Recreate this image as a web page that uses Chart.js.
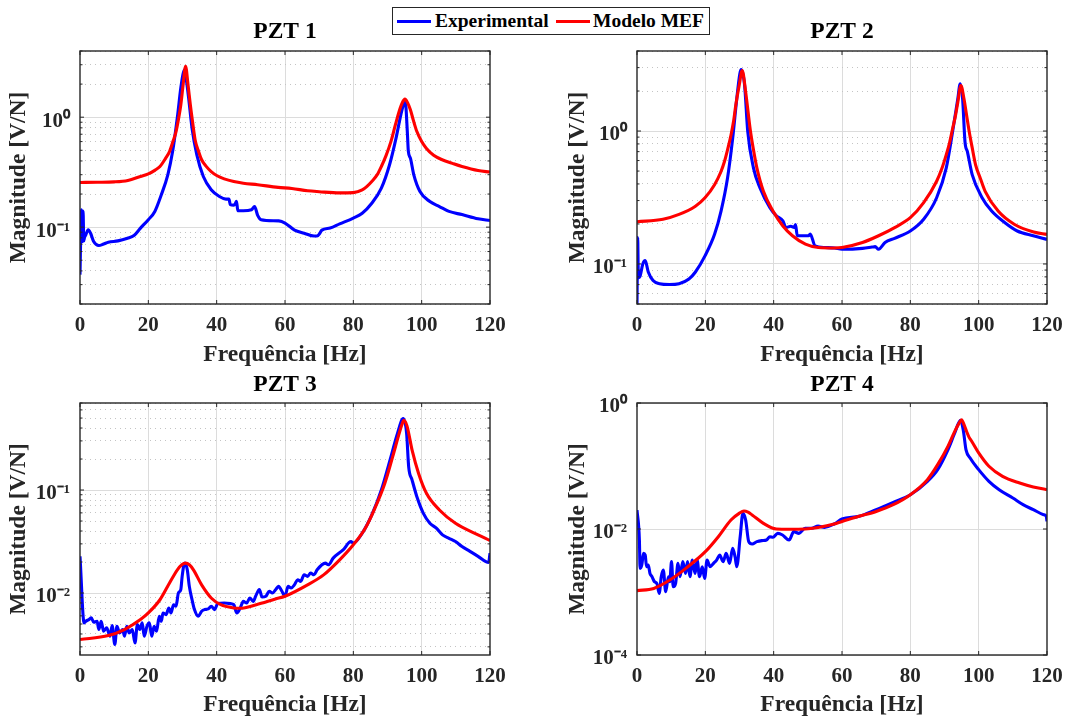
<!DOCTYPE html>
<html>
<head>
<meta charset="utf-8">
<title>FRF PZT 1-4</title>
<script src="https://cdn.jsdelivr.net/npm/chart.js@4.4.1/dist/chart.umd.min.js"></script>
<style>
  html, body { margin: 0; padding: 0; background: #fff; }
  #fig { position: relative; width: 1086px; height: 722px; overflow: hidden; }
  #fig canvas { position: absolute; left: 0; top: 0; }
  #legend {
    position: absolute; left: 392px; top: 7px; width: 316px; height: 26px;
    border: 1px solid #262626; background: #fff; z-index: 5;
    font-family: 'Liberation Serif', 'Times New Roman', serif;
    font-weight: bold; font-size: 19.5px; color: #000;
  }
  #legend .ln { position: absolute; top: 12px; height: 3px; width: 34px; }
  #legend .tx { position: absolute; top: 0; line-height: 26px; white-space: nowrap; }
</style>
</head>
<body>
<div id="fig">
  <canvas id="c1" width="1086" height="722"></canvas>
  <canvas id="c2" width="1086" height="722"></canvas>
  <canvas id="c3" width="1086" height="722"></canvas>
  <canvas id="c4" width="1086" height="722"></canvas>
  <div id="legend">
    <span class="ln" style="left:4px;background:#0000ff"></span><span class="tx" style="left:42px">Experimental</span>
    <span class="ln" style="left:163px;background:#ff0000"></span><span class="tx" style="left:200px">Modelo MEF</span>
  </div>
</div>
<script>
// frequency ticks (Hz), same for all panels
const freqTicks = [0, 20, 40, 60, 80, 100, 120];

// ---- PZT 1 ----
const p1ExpFreq = [0, 0.2, 0.4, 0.6, 0.75, 0.9, 1.1, 1.3, 1.7, 2.4, 3.1, 4, 5.5, 6.9, 8.3, 11.1, 13.9, 15.8, 17.7, 20, 21.9, 23.8, 25.7, 27.1, 28.5, 29.5, 30.2, 30.6, 31.2, 31.8, 32.8, 34.2, 36.1, 38.4, 40.8, 42.7, 43.6, 44, 45, 45.5, 45.8, 46.2, 47.8, 50.2, 51.1, 52, 53, 58.2, 60, 62.8, 65.6, 68.5, 69.4, 70.2, 70.8, 73.2, 76, 80, 82.6, 85.4, 88.2, 90.6, 92.5, 93.9, 94.8, 95.2, 95.8, 96.1, 96.7, 97.7, 99.5, 102.4, 105.2, 108, 111.8, 116.5, 120];
const p1ExpMag = [0.037, 0.08, 0.144, 0.1, 0.074, 0.14, 0.075, 0.08, 0.085, 0.0946, 0.088, 0.074, 0.068, 0.0702, 0.073, 0.075, 0.0794, 0.084, 0.098, 0.117, 0.139, 0.197, 0.299, 0.487, 1.0, 1.84, 2.51, 2.7, 2.1, 1.49, 0.79, 0.455, 0.289, 0.219, 0.19, 0.18, 0.18, 0.16, 0.158, 0.165, 0.172, 0.141, 0.141, 0.144, 0.154, 0.128, 0.117, 0.114, 0.109, 0.094, 0.088, 0.083, 0.083, 0.088, 0.094, 0.098, 0.107, 0.121, 0.134, 0.165, 0.226, 0.369, 0.645, 1.05, 1.34, 1.39, 0.74, 0.49, 0.424, 0.299, 0.211, 0.171, 0.154, 0.139, 0.13, 0.119, 0.115];
const p1MefFreq = [0, 5, 10, 14, 17.7, 20, 22, 23.4, 25, 26.2, 27.2, 28, 28.8, 29.5, 30.2, 30.9, 31.6, 32.3, 33, 33.7, 34.6, 35.6, 37, 38.4, 40, 42.2, 45, 47.8, 52, 58, 62, 66.6, 70, 76, 80, 82.6, 84, 85.4, 87, 88.2, 89.6, 91, 92.3, 93.4, 94.3, 95.1, 95.9, 96.7, 97.6, 98.6, 100, 101.4, 103.5, 106, 109, 111.8, 116.5, 120];
const p1MefMag = [0.255, 0.256, 0.258, 0.266, 0.289, 0.305, 0.33, 0.356, 0.42, 0.487, 0.6, 0.716, 0.95, 1.29, 2.0, 2.9, 2.0, 1.29, 0.88, 0.62, 0.5, 0.41, 0.355, 0.32, 0.295, 0.275, 0.26, 0.251, 0.243, 0.23, 0.225, 0.214, 0.21, 0.205, 0.206, 0.218, 0.235, 0.26, 0.3, 0.356, 0.45, 0.6, 0.85, 1.13, 1.35, 1.46, 1.35, 1.17, 0.93, 0.74, 0.6, 0.52, 0.45, 0.41, 0.38, 0.356, 0.327, 0.317];
const p1YTicks = [0.1, 1];
const p1YTickLabels = ['10⁻¹', '10⁰'];
const p1YMinor = [0.02, 0.03, 0.04, 0.05, 0.06, 0.07, 0.08, 0.09, 0.2, 0.3, 0.4, 0.5, 0.6, 0.7, 0.8, 0.9, 2, 3, 4];

// ---- PZT 2 ----
const p2ExpFreq = [0, 0.2, 0.35, 0.5, 0.9, 1.7, 2.4, 3.3, 4.7, 6.6, 9.5, 12.3, 15.2, 17.1, 19.9, 22.7, 24.6, 26.5, 28, 29.2, 30.1, 30.5, 31.5, 32.4, 34.1, 36, 38.9, 40.8, 42.7, 43.6, 45, 46, 46.4, 46.9, 50.2, 50.7, 52.1, 55, 57.8, 60, 66, 68.8, 69.7, 70.7, 72.6, 75.4, 80, 83.9, 87.7, 90.5, 92.4, 93.9, 94.6, 95.3, 96, 96.7, 98.1, 101, 103.8, 107.6, 111.3, 116, 120];
const p2ExpMag = [0.05, 0.158, 0.09, 0.079, 0.081, 0.1, 0.106, 0.087, 0.075, 0.071, 0.07, 0.071, 0.077, 0.087, 0.115, 0.167, 0.25, 0.443, 0.88, 1.75, 2.7, 2.9, 2.2, 1.0, 0.526, 0.373, 0.265, 0.23, 0.211, 0.188, 0.192, 0.188, 0.198, 0.163, 0.163, 0.168, 0.137, 0.133, 0.132, 0.129, 0.131, 0.134, 0.135, 0.129, 0.145, 0.156, 0.177, 0.217, 0.315, 0.526, 1.0, 1.75, 2.27, 1.75, 0.83, 0.7, 0.47, 0.315, 0.25, 0.205, 0.177, 0.163, 0.153];
const p2MefFreq = [0, 7.6, 12.3, 17.1, 19.9, 22.7, 24.5, 25.6, 26.6, 27.5, 28.3, 28.9, 29.9, 30.8, 31.8, 32.5, 33.2, 34.1, 35.1, 37, 39.8, 42.7, 45.5, 49.3, 53.1, 57.8, 60, 66, 70.7, 75.4, 80, 83.9, 87.7, 89.2, 90.5, 91.5, 92.4, 93.2, 93.9, 94.8, 95.7, 96.5, 97.2, 98.1, 99.1, 100.5, 101.9, 105.7, 110.4, 116.1, 120];
const p2MefMag = [0.208, 0.217, 0.236, 0.272, 0.315, 0.395, 0.49, 0.59, 0.74, 0.93, 1.2, 1.56, 2.2, 2.85, 1.97, 1.4, 1.0, 0.72, 0.526, 0.352, 0.25, 0.193, 0.163, 0.141, 0.133, 0.132, 0.133, 0.145, 0.163, 0.188, 0.223, 0.289, 0.419, 0.52, 0.662, 0.82, 1.05, 1.3, 1.65, 2.2, 1.75, 1.3, 1.0, 0.75, 0.557, 0.44, 0.352, 0.25, 0.199, 0.174, 0.167];
const p2YTicks = [0.1, 1];
const p2YTickLabels = ['10⁻¹', '10⁰'];
const p2YMinor = [0.05, 0.06, 0.07, 0.08, 0.09, 0.2, 0.3, 0.4, 0.5, 0.6, 0.7, 0.8, 0.9, 2, 3, 4];

// ---- PZT 3 ----
const p3ExpFreq = [0, 1.2, 1.7, 2.6, 3.3, 4, 5, 5.5, 6.2, 6.9, 7.8, 8.8, 9.4, 10.2, 10.8, 11.6, 12.5, 13, 13.7, 14.4, 15.3, 16.1, 16.8, 17.5, 18.2, 18.8, 19.6, 20.3, 21, 21.7, 22.4, 23.2, 23.8, 24.3, 25.2, 26, 26.6, 27.4, 28.1, 28.8, 29.5, 29.9, 30.4, 30.7, 31.4, 32, 32.8, 33.5, 34.6, 35.6, 36.5, 37.5, 38.4, 39.4, 40.3, 42.2, 44.1, 45, 45.9, 46.9, 47.8, 48.8, 49.7, 50.7, 51.4, 52.5, 53.3, 54.4, 55.4, 56.3, 57.3, 58.1, 59.1, 60, 60.9, 61.8, 62.8, 63.7, 64.6, 65.6, 66.6, 67.5, 68.5, 69.4, 71.8, 72.7, 74.1, 77, 79.3, 80, 82.6, 85.4, 88.2, 91, 92.9, 94.6, 95.6, 96.2, 97.2, 98.6, 100.5, 102.4, 104.3, 106.1, 108, 109.9, 111.8, 113.7, 116.5, 119.6, 120];
const p3ExpMag = [0.0227, 0.00513, 0.00532, 0.00552, 0.00573, 0.0052, 0.00532, 0.00442, 0.00532, 0.00426, 0.00458, 0.00381, 0.00483, 0.00316, 0.00476, 0.0041, 0.00442, 0.00381, 0.00476, 0.0041, 0.00442, 0.00328, 0.00494, 0.00442, 0.00513, 0.00381, 0.00476, 0.00513, 0.00381, 0.00476, 0.00426, 0.00594, 0.00532, 0.0064, 0.00617, 0.00716, 0.0064, 0.0077, 0.00743, 0.01, 0.0108, 0.0145, 0.0188, 0.0195, 0.0168, 0.0116, 0.0086, 0.0069, 0.00594, 0.00665, 0.0069, 0.007, 0.00743, 0.0069, 0.00789, 0.008, 0.00789, 0.0077, 0.0064, 0.00716, 0.0083, 0.008, 0.00895, 0.0083, 0.0093, 0.0108, 0.00914, 0.0093, 0.0104, 0.01, 0.0108, 0.0116, 0.0104, 0.0093, 0.0116, 0.0112, 0.01205, 0.01346, 0.01297, 0.01503, 0.0145, 0.01562, 0.01503, 0.0168, 0.0195, 0.0188, 0.0218, 0.0262, 0.0316, 0.0305, 0.0381, 0.0573, 0.1, 0.21, 0.353, 0.494, 0.353, 0.168, 0.125, 0.0861, 0.0594, 0.0476, 0.0426, 0.0367, 0.034, 0.0316, 0.0283, 0.0259, 0.0227, 0.0198, 0.0244];
const p3MefFreq = [0, 8.3, 13, 17.7, 20, 23.4, 26.2, 28.5, 29.8, 30.9, 32, 33.2, 35.6, 38.4, 41.2, 45, 46.9, 51.6, 57.2, 60, 66.6, 71.3, 76, 80, 83.5, 86.3, 89.2, 91.5, 93.4, 94.2, 94.8, 95.7, 97.2, 99.1, 101.4, 105.2, 109.9, 116.5, 120];
const p3MefMag = [0.00353, 0.00386, 0.00442, 0.00552, 0.0064, 0.0086, 0.0125, 0.0168, 0.0188, 0.0195, 0.0188, 0.0168, 0.012, 0.00895, 0.0077, 0.00716, 0.0071, 0.0077, 0.00875, 0.0093, 0.012, 0.015, 0.021, 0.0294, 0.0426, 0.0665, 0.116, 0.21, 0.353, 0.43, 0.475, 0.42, 0.244, 0.145, 0.093, 0.064, 0.0476, 0.0367, 0.0323];
const p3YTicks = [0.01, 0.1];
const p3YTickLabels = ['10⁻²', '10⁻¹'];
const p3YMinor = [0.003, 0.004, 0.005, 0.006, 0.007, 0.008, 0.009, 0.02, 0.03, 0.04, 0.05, 0.06, 0.07, 0.08, 0.09, 0.2, 0.3, 0.4, 0.5, 0.6, 0.7];

// ---- PZT 4 ----
const p4ExpFreq = [0, 0.7, 0.9, 1.4, 1.9, 2.4, 2.8, 3.3, 3.8, 4.4, 5.1, 5.8, 6.5, 7.1, 7.7, 8.4, 9.2, 9.6, 10.1, 10.6, 11.3, 12, 12.6, 13.4, 14.2, 14.8, 15.5, 16.2, 17, 17.6, 18.3, 19.1, 19.8, 20.5, 21.4, 22.4, 23.3, 24.2, 25.2, 26.1, 27.1, 28, 28.7, 29.2, 30.2, 31, 31.8, 32.7, 33.7, 35.1, 36.5, 37.9, 38.9, 39.8, 41.2, 42.6, 44.5, 45.9, 47.4, 49.2, 51.1, 53, 54.9, 57.7, 60, 65, 70, 75, 80, 85, 88, 91, 93, 94.7, 95.5, 96.3, 97.5, 100, 103, 106, 110, 113, 116, 119, 119.8, 120];
const p4ExpMag = [0.02, 0.00668, 0.00237, 0.00268, 0.0041, 0.00386, 0.00252, 0.00268, 0.00197, 0.00175, 0.00146, 0.00137, 0.00095, 0.00175, 0.00223, 0.00101, 0.00175, 0.00146, 0.00303, 0.00121, 0.00137, 0.00285, 0.00175, 0.00303, 0.00197, 0.00303, 0.00175, 0.00321, 0.00197, 0.00321, 0.00175, 0.00252, 0.00164, 0.00321, 0.00252, 0.00285, 0.00321, 0.00386, 0.00303, 0.0041, 0.00285, 0.00493, 0.00363, 0.00252, 0.00755, 0.0177, 0.0139, 0.0063, 0.00578, 0.0063, 0.00653, 0.00668, 0.00755, 0.00738, 0.00853, 0.00803, 0.00668, 0.00907, 0.00853, 0.01025, 0.01025, 0.01116, 0.01063, 0.012, 0.0144, 0.0159, 0.0203, 0.0265, 0.035, 0.0571, 0.0875, 0.181, 0.334, 0.531, 0.37, 0.18, 0.134, 0.0875, 0.0571, 0.042, 0.031, 0.0243, 0.0203, 0.0169, 0.0158, 0.0132];
const p4MefFreq = [0, 4.9, 9.6, 14.3, 20, 23.8, 27.5, 29.9, 31.3, 32.5, 33.7, 37, 40.8, 44.5, 49.2, 53, 57.7, 60, 65, 70, 75, 80, 85, 88, 91, 93, 94.2, 95, 95.8, 96.5, 97.2, 98, 100, 103, 107, 112, 116, 120];
const p4MefMag = [0.00105, 0.00114, 0.00155, 0.00237, 0.00436, 0.00755, 0.0139, 0.0177, 0.0193, 0.0185, 0.0167, 0.0123, 0.01, 0.0099, 0.01, 0.0106, 0.012, 0.0132, 0.0159, 0.019, 0.0243, 0.035, 0.0607, 0.105, 0.205, 0.355, 0.47, 0.543, 0.44, 0.35, 0.285, 0.245, 0.161, 0.099, 0.0686, 0.0537, 0.0465, 0.042];
const p4YTicks = [0.0001, 0.01, 1];
const p4YTickLabels = ['10⁻⁴', '10⁻²', '10⁰'];
const p4YMinor = [];

Chart.defaults.font.family = "'Liberation Serif', 'Times New Roman', Times, serif";
Chart.defaults.font.weight = 'bold';

function pairs(f, m) {
  return f.map(function (v, i) { return {x: v, y: m[i]}; });
}

function findTick(list, v) {
  return list.findIndex(function (t) { return Math.abs(t - v) / t < 1e-6; });
}

// MATLAB-like box with inward ticks on all four sides
const boxPlugin = {
  id: 'matlabBox',
  afterDatasetsDraw: function (chart) {
    const a = chart.chartArea, ctx = chart.ctx;
    const xs = chart.scales.x, ys = chart.scales.y;
    ctx.save();
    ctx.strokeStyle = '#262626';
    ctx.lineWidth = 1;
    ctx.beginPath();
    xs.ticks.forEach(function (t) {
      const px = xs.getPixelForValue(t.value);
      ctx.moveTo(px, a.bottom); ctx.lineTo(px, a.bottom - 4);
      ctx.moveTo(px, a.top); ctx.lineTo(px, a.top + 4);
    });
    ys.ticks.forEach(function (t) {
      const py = ys.getPixelForValue(t.value);
      const len = t.label ? 4 : 2.5;
      ctx.moveTo(a.left, py); ctx.lineTo(a.left + len, py);
      ctx.moveTo(a.right, py); ctx.lineTo(a.right - len, py);
    });
    ctx.stroke();
    ctx.lineWidth = 1.4;
    ctx.strokeRect(a.left, a.top, a.right - a.left, a.bottom - a.top);
    ctx.restore();
  }
};

function makePanel(id, p) {
  const ctx = document.getElementById(id).getContext('2d');
  const allY = p.yTicks.concat(p.yMinor).sort(function (a, b) { return a - b; });
  return new Chart(ctx, {
    type: 'line',
    data: {
      datasets: [
        { label: 'Experimental', data: pairs(p.expF, p.expM), borderColor: '#0000ff',
          borderWidth: 3.1, pointRadius: 0, cubicInterpolationMode: 'monotone', order: 2 },
        { label: 'Modelo MEF', data: pairs(p.mefF, p.mefM), borderColor: '#ff0000',
          borderWidth: 3.1, pointRadius: 0, cubicInterpolationMode: 'monotone', order: 1 }
      ]
    },
    options: {
      responsive: false,
      animation: false,
      devicePixelRatio: 1,
      layout: { padding: p.pad },
      plugins: {
        legend: { display: false },
        tooltip: { enabled: false },
        title: { display: true, text: p.title, fullSize: false, color: '#000',
                 font: { size: 23.5, weight: 'bold' }, padding: p.titlePad }
      },
      scales: {
        x: {
          type: 'linear', min: 0, max: 120,
          afterBuildTicks: function (s) { s.ticks = freqTicks.map(function (v) { return {value: v}; }); },
          afterFit: function (s) { s.height = p.xH; },
          grid: { drawTicks: false, lineWidth: 1,
                  color: function (c) { return (c.tick.value === 0 || c.tick.value === 120) ? 'rgba(0,0,0,0)' : '#dcdcdc'; } },
          border: { display: false },
          ticks: { font: { size: 21, weight: 'bold' }, color: '#262626', padding: 9, maxRotation: 0, autoSkip: false },
          title: { display: true, text: 'Frequência [Hz]', color: '#262626',
                   font: { size: 23.5, weight: 'bold' }, padding: { top: 0, bottom: 0 } }
        },
        y: {
          type: 'logarithmic', min: p.yMin, max: p.yMax,
          afterBuildTicks: function (s) { s.ticks = allY.map(function (v) { return {value: v}; }); },
          afterFit: function (s) { s.width = p.yW; },
          grid: { drawTicks: false, lineWidth: 1,
                  color: function (c) { return findTick(p.yTicks, c.tick.value) >= 0 ? '#dcdcdc' : '#c4c4c4'; } },
          border: { display: false,
                    dash: function (c) { return findTick(p.yTicks, c.tick.value) >= 0 ? [] : [1, 4]; } },
          ticks: {
            autoSkip: false, padding: 10, labelOffset: 4, color: '#262626',
            font: { size: 21, weight: 'bold' },
            callback: function (v) {
              const i = findTick(p.yTicks, v);
              return i >= 0 ? p.yTickLabels[i] : '';
            }
          },
          title: { display: true, text: 'Magnitude [V/N]', color: '#262626',
                   font: { size: 23.5, weight: 'bold' }, padding: { top: 5, bottom: 0 } }
        }
      }
    },
    plugins: [boxPlugin]
  });
}

makePanel('c1', { title: 'PZT 1', expF: p1ExpFreq, expM: p1ExpMag, mefF: p1MefFreq, mefM: p1MefMag,
  yTicks: p1YTicks, yTickLabels: p1YTickLabels, yMinor: p1YMinor, yMin: 0.02, yMax: 4,
  pad: { left: 0, right: 596, top: 0, bottom: 353 }, titlePad: { top: 17.9, bottom: 4.9 }, yW: 80, xH: 65 });

makePanel('c2', { title: 'PZT 2', expF: p2ExpFreq, expM: p2ExpMag, mefF: p2MefFreq, mefM: p2MefMag,
  yTicks: p2YTicks, yTickLabels: p2YTickLabels, yMinor: p2YMinor, yMin: 0.05, yMax: 4,
  pad: { left: 559, right: 39, top: 0, bottom: 353 }, titlePad: { top: 17.9, bottom: 4.9 }, yW: 78, xH: 65 });

makePanel('c3', { title: 'PZT 3', expF: p3ExpFreq, expM: p3ExpMag, mefF: p3MefFreq, mefM: p3MefMag,
  yTicks: p3YTicks, yTickLabels: p3YTickLabels, yMinor: p3YMinor, yMin: 0.0025, yMax: 0.7,
  pad: { left: 0, right: 596, top: 361, bottom: 3 }, titlePad: { top: 10, bottom: 3.8 }, yW: 80, xH: 64 });

makePanel('c4', { title: 'PZT 4', expF: p4ExpFreq, expM: p4ExpMag, mefF: p4MefFreq, mefM: p4MefMag,
  yTicks: p4YTicks, yTickLabels: p4YTickLabels, yMinor: p4YMinor, yMin: 0.0001, yMax: 1,
  pad: { left: 559, right: 39, top: 361, bottom: 3 }, titlePad: { top: 10, bottom: 3.8 }, yW: 78, xH: 64 });
</script>
</body>
</html>
